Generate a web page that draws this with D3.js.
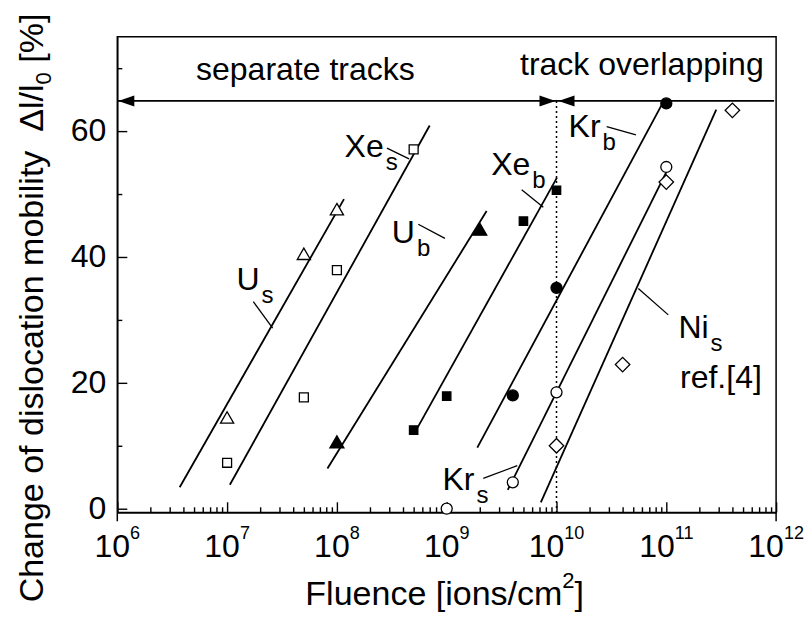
<!DOCTYPE html>
<html>
<head>
<meta charset="utf-8">
<script src="https://cdn.jsdelivr.net/npm/d3@7"></script>
<style>
body { margin:0; background:#fff; }
text { font-family: "Liberation Sans", Arial, sans-serif; fill:#000; }
</style>
</head>
<body>
<div id="chart"></div>
<script>

// ---- values ----
var xExps = [6, 7, 8, 9, 10, 11, 12];          // decades of fluence
var yTicks = [0, 20, 40, 60];
var yMinor = [10, 30, 50, 70];

// measured points (fluence, change %)
var usPts  = [[1e7, 14.2], [5e7, 40.2], [1e8, 47.3]];                  // U_s  open triangle
var xesPts = [[1e7, 7.3], [5e7, 17.7], [1e8, 37.9], [5e8, 57.1]];       // Xe_s open square
var ubPts  = [[1e8, 10.3], [2e9, 44.1]];                                // U_b  filled triangle
var xebPts = [[5e8, 12.5], [1e9, 17.9], [5e9, 45.7], [1e10, 50.6]];     // Xe_b filled square
var krbPts = [[4e9, 18.0], [1e10, 35.1], [1e11, 64.4]];                 // Kr_b filled circle
var krsPts = [[1e9, 0.0], [4e9, 4.2], [1e10, 18.5], [1e11, 54.3]];      // Kr_s open circle
var nisPts = [[1e10, 10.0], [4e10, 22.9], [1e11, 51.9], [4e11, 63.3]];  // Ni_s open diamond

// fitted straight lines (start, end)
var fitLines = [
  [[3.7e6, 3.4], [1.16e8, 49.2]],    // U_s
  [[1.06e7, 3.8], [7.0e8, 60.9]],    // Xe_s
  [[8.2e7, 6.4], [2.31e9, 47.3]],    // U_b
  [[5.24e8, 12.4], [1.01e10, 52.6]], // Xe_b
  [[1.9e9, 9.7], [9.1e10, 64.2]],    // Kr_b
  [[3.6e9, 3.0], [1.035e11, 54.0]],  // Kr_s
  [[7.2e9, 1.0], [2.85e11, 63.4]]    // Ni_s
];

// labels: text, subscript, position as (log10 fluence, value)
var labMain = ["U", "Xe", "U", "Xe", "Kr", "Kr", "Ni"];
var labSub  = ["s", "s", "b", "b", "b", "s", "s"];
var labPos  = [[7.085, 34.7], [8.07, 55.9], [8.50, 42.2], [9.405, 53.0], [10.11, 59.0], [8.962, 2.97], [11.11, 27.2]];
var leaders = [
  [[7.239, 32.9], [7.415, 28.7]],
  [[8.456, 57.3], [8.657, 55.6]],
  [[8.741, 45.2], [8.984, 42.96]],
  [[9.683, 50.7], [9.880, 47.9]],
  [[10.457, 60.7], [10.724, 59.4]],
  [[9.333, 4.83], [9.643, 6.83]],
  [[11.018, 30.8], [10.745, 35.0]]
];

var arrowY = 64.8;      // level of the regime arrows
var boundary = 1e10;    // separate tracks / track overlapping

// ---- layout ----
var width = 812, height = 619;
var pLeft = 117.3, pRight = 776.1, pTop = 36.7, pBottom = 512.3;

var svg = d3.select("#chart").append("svg")
            .attr("width", width)
            .attr("height", height);

var x = d3.scaleLog().domain([1e6, 1e12]).range([pLeft, pRight]);
var y = d3.scaleLinear().domain([-0.57, 75]).range([pBottom, pTop]);

// minor decade ticks 2..9 x 10^n
var xMinor = [];
xExps.slice(0, -1).forEach(function(e) {
  for (var k = 2; k <= 9; k++) xMinor.push(k * Math.pow(10, e));
});
var xMajor = xExps.map(function(e) { return Math.pow(10, e); });

// frame
svg.append("path")
   .attr("d", "M" + pLeft + "," + (pBottom + 9) + "V" + pTop + "H" + pRight + "V" + (pBottom + 9))
   .attr("fill", "none")
   .attr("stroke", "black")
   .attr("stroke-width", 1.5);

// x axis (ticks point inward)
var xAxisMinor = svg.append("g").attr("transform", "translate(0," + pBottom + ")")
   .call(d3.axisBottom(x).tickValues(xMinor).tickSizeInner(-5).tickSizeOuter(0).tickFormat(""));
var xAxisMajor = svg.append("g").attr("transform", "translate(0," + pBottom + ")")
   .call(d3.axisBottom(x).tickValues(xMajor).tickSizeInner(-10).tickSizeOuter(0).tickFormat(""));
xAxisMajor.select(".domain").attr("stroke-width", 2);
xAxisMinor.select(".domain").remove();

// y axis
var yAxisMinor = svg.append("g").attr("transform", "translate(" + pLeft + ",0)")
   .call(d3.axisLeft(y).tickValues(yMinor).tickSizeInner(-5).tickSizeOuter(0).tickFormat(""));
yAxisMinor.select(".domain").remove();
var yAxis = svg.append("g").attr("transform", "translate(" + pLeft + ",0)")
   .call(d3.axisLeft(y).tickValues(yTicks).tickSizeInner(-10).tickSizeOuter(0).tickPadding(11));
yAxis.select(".domain").attr("stroke-width", 1.5);
yAxis.selectAll("text")
     .attr("font-family", "Liberation Sans, Arial, sans-serif")
     .attr("font-size", "32px")
     .attr("dy", "0.30em");
svg.selectAll(".tick line").attr("stroke-width", 1.4);

// x tick labels 10^n
var xLab = svg.append("g").selectAll("text")
   .data(xExps).enter().append("text")
   .attr("x", function(d) { return x(Math.pow(10, d)); })
   .attr("y", 557)
   .attr("text-anchor", "middle")
   .attr("font-size", "32px");
xLab.append("tspan").text("10");
xLab.append("tspan").text(function(d) { return d; })
    .attr("font-size", "18px")
    .attr("dy", -18);

// axis titles
var xt = svg.append("text")
   .attr("x", (pLeft + pRight) / 2 - 2)
   .attr("y", 605)
   .attr("text-anchor", "middle")
   .attr("font-size", "34px");
xt.append("tspan").text("Fluence [ions/cm");
xt.append("tspan").text("2").attr("font-size", "22px").attr("dy", -17);
xt.append("tspan").text("]").attr("dy", 17);

var yt = svg.append("text")
   .attr("transform", "translate(43,308) rotate(-90)")
   .attr("text-anchor", "middle")
   .attr("font-size", "34px")
   .attr("xml:space", "preserve");
yt.append("tspan").text("Change of dislocation mobility  \u0394l/l");
yt.append("tspan").text("0").attr("font-size", "22px").attr("dy", 8);
yt.append("tspan").text(" [%]").attr("dy", -8);

// boundary dotted line
svg.append("line")
   .attr("x1", x(boundary)).attr("x2", x(boundary))
   .attr("y1", y(arrowY)).attr("y2", pBottom)
   .attr("stroke", "black")
   .attr("stroke-width", 1.5)
   .attr("stroke-dasharray", "2,3");

// regime arrows
var ay = y(arrowY);
svg.append("line")
   .attr("x1", pLeft).attr("x2", pRight - 2)
   .attr("y1", ay).attr("y2", ay)
   .attr("stroke", "black").attr("stroke-width", 1.6);

function head(tip, dir) {
  // dir = +1 points right, -1 points left
  return "M" + tip + "," + ay + "L" + (tip - dir * 16) + "," + (ay - 5.5) + "L" + (tip - dir * 16) + "," + (ay + 5.5) + "Z";
}
svg.append("path").attr("d", head(pLeft + 1, -1));
svg.append("path").attr("d", head(x(boundary) - 1, 1));
svg.append("path").attr("d", head(x(boundary) + 2, -1));

svg.append("text").text("separate tracks")
   .attr("x", 196).attr("y", 80).attr("font-size", "32px");
svg.append("text").text("track overlapping")
   .attr("x", 520).attr("y", 75).attr("font-size", "32px");

// fit lines
var line = d3.line().x(function(d) { return x(d[0]); }).y(function(d) { return y(d[1]); });
svg.append("g").selectAll("path")
   .data(fitLines).enter().append("path")
   .attr("d", line)
   .attr("fill", "none")
   .attr("stroke", "black")
   .attr("stroke-width", 1.8);

// markers
function drawPts(pts, type, size, filled, rot) {
  svg.append("g").selectAll("path")
     .data(pts).enter().append("path")
     .attr("d", d3.symbol().type(type).size(size))
     .attr("transform", function(d) { return "translate(" + x(d[0]) + "," + y(d[1]) + ") rotate(" + (rot || 0) + ")"; })
     .attr("fill", filled ? "black" : "white")
     .attr("stroke", "black")
     .attr("stroke-width", 1.3);
}
drawPts(usPts, d3.symbolTriangle, 75, false);
drawPts(xesPts, d3.symbolSquare, 80, false);
drawPts(ubPts, d3.symbolTriangle, 85, true);
drawPts(xebPts, d3.symbolSquare, 70, true);
drawPts(krbPts, d3.symbolCircle, 95, true);
drawPts(krsPts, d3.symbolCircle, 95, false);
drawPts(nisPts, d3.symbolSquare, 105, false, 45);

// ion labels with leader lines
svg.append("g").selectAll("line")
   .data(leaders).enter().append("line")
   .attr("x1", function(d) { return x(Math.pow(10, d[0][0])); })
   .attr("y1", function(d) { return y(d[0][1]); })
   .attr("x2", function(d) { return x(Math.pow(10, d[1][0])); })
   .attr("y2", function(d) { return y(d[1][1]); })
   .attr("stroke", "black")
   .attr("stroke-width", 1.3);

var lab = svg.append("g").selectAll("text")
   .data(labPos).enter().append("text")
   .attr("x", function(d) { return x(Math.pow(10, d[0])); })
   .attr("y", function(d) { return y(d[1]); })
   .attr("font-size", "32px");
lab.append("tspan").text(function(d, i) { return labMain[i]; });
lab.append("tspan").text(function(d, i) { return labSub[i]; })
   .attr("font-size", "24px")
   .attr("dx", 2)
   .attr("dy", 13);

svg.append("text").text("ref.[4]")
   .attr("x", x(Math.pow(10, 11.125))).attr("y", y(19.2))
   .attr("font-size", "32px");

</script>
</body>
</html>
